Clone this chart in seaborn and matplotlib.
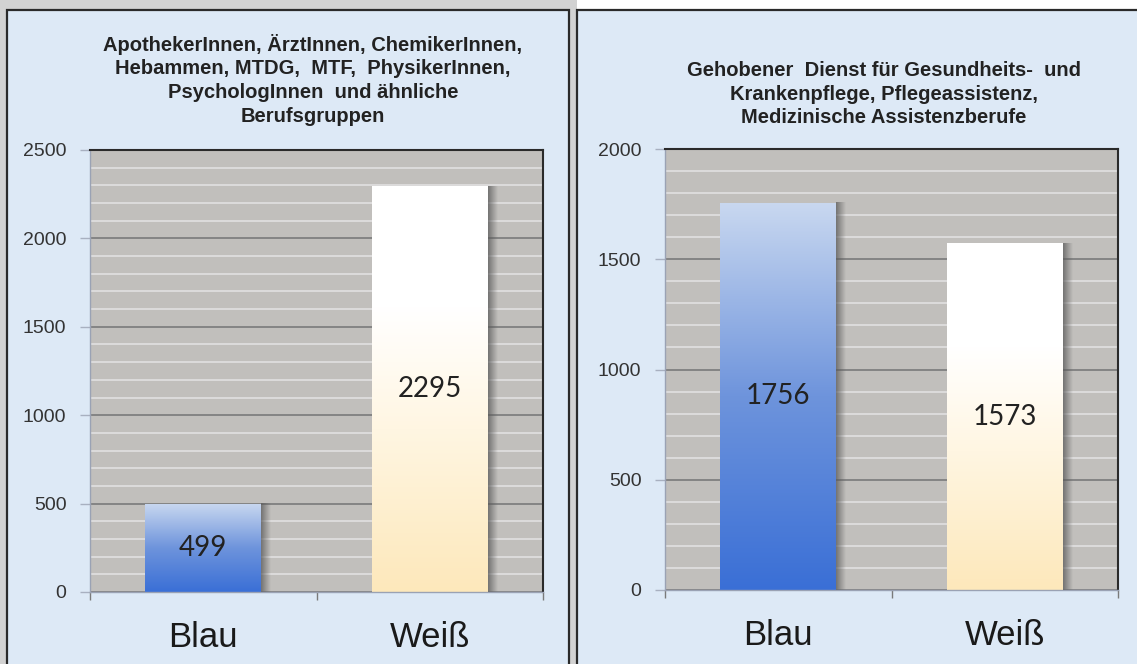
import numpy as np
import matplotlib
matplotlib.use("Agg")
import matplotlib.pyplot as plt
from matplotlib.patches import Rectangle
from matplotlib.colors import LinearSegmentedColormap
from matplotlib.ticker import MultipleLocator, FixedLocator
import seaborn as sns

# ====== DATA ======
categories = ["Blau", "Weiß"]
left_values = [499, 2295]
right_values = [1756, 1573]
left_yticks = [0, 500, 1000, 1500, 2000, 2500]
right_yticks = [0, 500, 1000, 1500, 2000]
left_title = ("ApothekerInnen, ÄrztInnen, ChemikerInnen,\n"
              "Hebammen, MTDG,  MTF,  PhysikerInnen,\n"
              "PsychologInnen  und ähnliche\n"
              "Berufsgruppen")
right_title = ("Gehobener  Dienst für Gesundheits-  und\n"
               "Krankenpflege, Pflegeassistenz,\n"
               "Medizinische Assistenzberufe")

# ====== STYLE ======
W, H = 1137, 664
sns.set_theme(style="white")
plt.rcParams["font.family"] = ["Liberation Sans", "DejaVu Sans"]

PANEL_BG = "#dde9f6"
PLOT_BG = "#c1bfbc"
bar_maps = {
    "Blau": LinearSegmentedColormap.from_list(
        "blau", [(0, "#3a6fd6"), (0.5, "#6e94dc"), (1, "#c9d8f0")]),
    "Weiß": LinearSegmentedColormap.from_list(
        "weiss", [(0, "#fde8bb"), (0.4, "#fff6e2"), (0.7, "#ffffff"), (1, "#ffffff")]),
}


def px(x, y):
    # pixel coords (top-left origin) -> figure fraction
    return x / W, 1 - y / H


fig = plt.figure(figsize=(W / 100, H / 100), dpi=100, facecolor="white")

# outer grey strip + panel frames
fig.patches.append(Rectangle((0, 0), 577 / W, 1, transform=fig.transFigure,
                             facecolor="#d2d2d2", edgecolor="none", zorder=-3))
for x0, x1 in [(7, 569), (577, 1150)]:
    fig.patches.append(Rectangle((x0 / W, -0.05), (x1 - x0) / W, 1.05 - 10 / H,
                                 transform=fig.transFigure, facecolor=PANEL_BG,
                                 edgecolor="#2a2a2a", linewidth=1.6, zorder=-2))


def draw_panel(rect, values, yticks, title, title_xy):
    ax = fig.add_axes(rect)
    sns.barplot(x=categories, y=values, hue=categories, palette=["#6e94dc", "#ffffff"],
                width=0.51, legend=False, ax=ax, saturation=1)
    ymax = yticks[-1]
    ax.set_xlim(-0.5, 1.5)
    ax.set_ylim(0, ymax)
    ax.set_facecolor(PLOT_BG)
    ax.set_axisbelow(True)

    # gridlines: major every 500, light minor every 100
    ax.set_yticks(yticks)
    ax.yaxis.set_minor_locator(MultipleLocator(100))
    ax.grid(which="minor", axis="y", color="#dedede", linewidth=1.3)
    ax.grid(which="major", axis="y", color="#7a7a7a", linewidth=1.2)
    ax.grid(which="both", axis="x", visible=False)

    # gradient fills + right-side shadow
    for patch, cat in zip(ax.patches, categories):
        x0, w, h = patch.get_x(), patch.get_width(), patch.get_height()
        patch.set_zorder(2)
        patch.set_edgecolor("none")
        grad = np.linspace(0, 1, 256).reshape(-1, 1)
        im = ax.imshow(grad, extent=[x0, x0 + w, 0, h], origin="lower",
                       cmap=bar_maps[cat], aspect="auto", zorder=2.1)
        im.set_clip_path(patch)
        shadow = np.zeros((2, 64, 4))
        shadow[..., :3] = 0.35
        shadow[..., 3] = np.linspace(0.75, 0, 64)
        ax.imshow(shadow, extent=[x0 + w, x0 + w + 0.04, 0, h], origin="lower",
                  aspect="auto", zorder=1.8)

    ax.set_xlim(-0.5, 1.5)
    ax.set_ylim(0, ymax)

    # value labels at mid-height
    for i, v in enumerate(values):
        ax.text(i, v / 2, str(v), ha="center", va="center", fontsize=20,
                family=["Lato", "DejaVu Sans"], color="#222222", zorder=3)

    # spines
    for side in ["top", "right"]:
        ax.spines[side].set_color("#2a2a2a")
        ax.spines[side].set_linewidth(1.5)
    for side in ["left", "bottom"]:
        ax.spines[side].set_color("#9aa2b4")
        ax.spines[side].set_linewidth(1.0)

    # ticks
    ax.xaxis.set_minor_locator(FixedLocator([-0.5, 0.5, 1.5]))
    ax.tick_params(axis="x", which="major", length=0, pad=21, labelsize=25,
                   labelcolor="#1a1a1a")
    ax.tick_params(axis="x", which="minor", length=6, color="#7a7a7a",
                   width=1, direction="out", bottom=True)
    ax.tick_params(axis="y", which="major", length=7, color="#a8b0c0", width=1,
                   pad=10, labelsize=14, labelcolor="#333333", left=True)
    ax.tick_params(axis="y", which="minor", length=0)
    ax.set_xlabel("")
    ax.set_ylabel("")

    fig.text(*px(*title_xy), title, ha="center", va="top", fontsize=14.5,
             fontweight="bold", linespacing=1.3, color="#222222")
    return ax


l0, t0 = px(90, 150)
l1, b1 = px(543, 592)
draw_panel([l0, b1, l1 - l0, t0 - b1], left_values, left_yticks, left_title, (313, 34))

r0, t0 = px(665, 149)
r1, b1 = px(1118, 590)
draw_panel([r0, b1, r1 - r0, t0 - b1], right_values, right_yticks, right_title, (884, 61))

fig.savefig("out.png", dpi=100, facecolor=fig.get_facecolor())
